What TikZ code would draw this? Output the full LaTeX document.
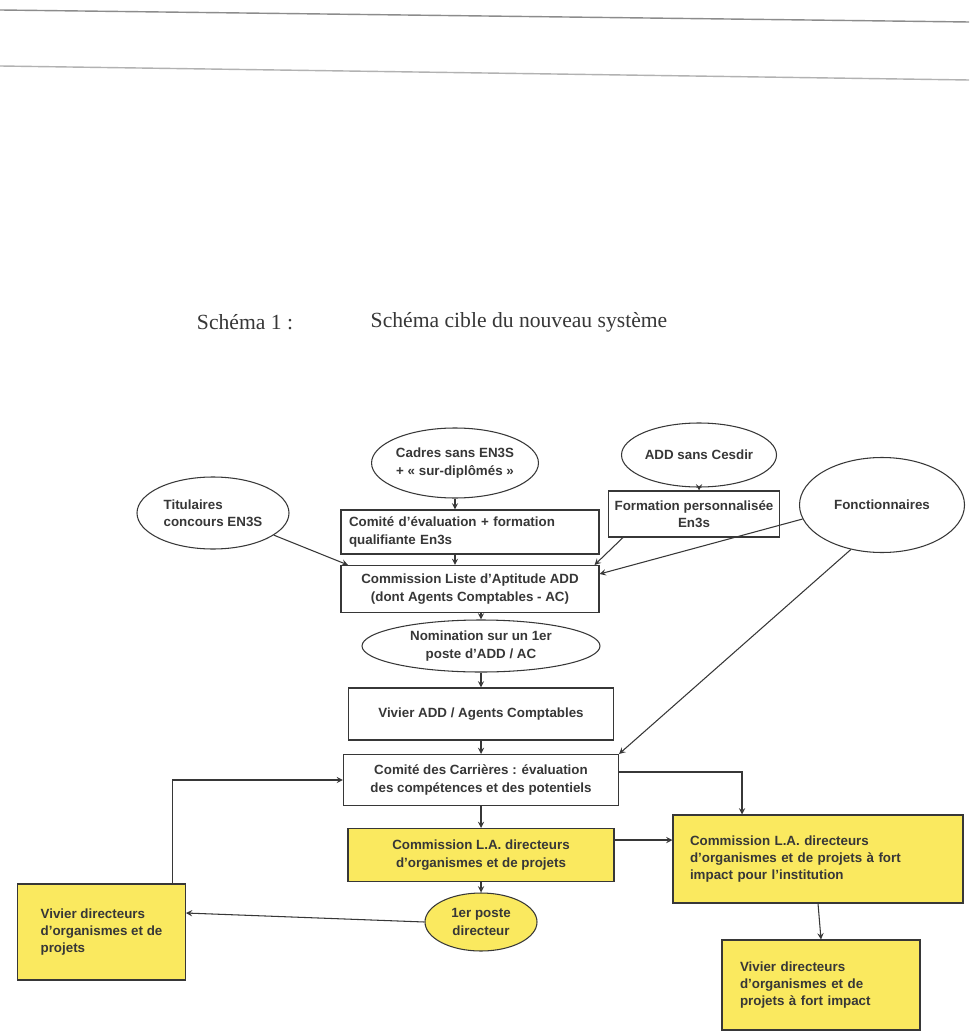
\documentclass[tikz,border=0pt]{standalone}
\usepackage{fontspec}
\setmainfont{Liberation Sans}
\newfontfamily\titlefont{Liberation Serif}
\usetikzlibrary{shapes.geometric, arrows, positioning}

\definecolor{inkgray}{RGB}{55,55,55}
\definecolor{boxyellow}{RGB}{250,233,95}

\tikzstyle{source} = [ellipse, draw=inkgray, line width=0.6pt, inner sep=0pt, text=inkgray, align=center]
\tikzstyle{stage} = [rectangle, draw=inkgray, line width=0.6pt, inner sep=0pt, text=inkgray, align=center]
\tikzstyle{pool} = [rectangle, draw=inkgray, line width=0.6pt, inner sep=0pt, fill=boxyellow, text=inkgray, align=left]
\tikzstyle{arrow} = [->, >=stealth, line width=0.6pt, draw=inkgray]

\begin{document}
\begin{tikzpicture}[font=\fontsize{7.6}{9.8}\selectfont\bfseries]

\useasboundingbox (0,0) rectangle (19.38,-20.68);
\fill [white] (0,0) rectangle (19.38,-20.68);

% bords de page du scan
\draw [black!45, line width=0.8pt] (0,-0.2) -- (19.38,-0.44);
\draw [black!30, line width=0.8pt] (0,-1.32) -- (19.38,-1.6);

\node (titre1) at (4.9,-6.44) [text=inkgray, font=\titlefont\fontsize{12.3}{14}\selectfont] {Schéma 1 :};
\node (titre2) at (10.38,-6.44) [text=inkgray, font=\titlefont\fontsize{12.3}{14}\selectfont] {Schéma cible du nouveau système};

% sources
\node (titul) at (4.26,-10.26) [source, minimum width=3.04cm, minimum height=1.44cm, align=left] {Titulaires\\concours EN3S};
\node (cadres) at (9.1,-9.26) [source, minimum width=3cm, minimum height=1.4cm] {Cadres sans EN3S\\+ « sur-diplômés »};
\node (formp) at (13.88,-10.28) [stage, minimum width=3.42cm, minimum height=0.92cm] {Formation personnalisée\\En3s};
\node (addsc) [source, minimum width=3.1cm, minimum height=1.28cm, above of=formp, node distance=1.18cm, xshift=0.1cm] {ADD sans Cesdir};
\node (fonct) at (17.64,-10.1) [source, minimum width=3.3cm, minimum height=1.9cm] {Fonctionnaires};

% colonne centrale
\node (clist) at (9.4,-11.78) [stage, minimum width=5.16cm, minimum height=0.94cm] {Commission Liste d'Aptitude ADD\\(dont Agents Comptables - AC)};
\node (evalu) [stage, minimum width=5.16cm, minimum height=0.88cm, text width=4.84cm, align=left, above of=clist, node distance=1.14cm] {Comité d'évaluation + formation\\qualifiante En3s};
\node (nomin) [source, minimum width=4.76cm, minimum height=1.04cm, below of=clist, node distance=1.14cm, xshift=0.22cm] {Nomination sur un 1er\\poste d'ADD / AC};
\node (vadd) [stage, minimum width=5.3cm, minimum height=1.04cm, below of=nomin, node distance=1.36cm] {Vivier ADD / Agents Comptables};
\node (ccar) [stage, minimum width=5.5cm, minimum height=1.02cm, below of=vadd, node distance=1.32cm] {Comité des Carrières : évaluation\\des compétences et des potentiels};
\node (cladir) [pool, minimum width=5.32cm, minimum height=1.06cm, align=center, below of=ccar, node distance=1.5cm] {Commission L.A. directeurs\\d'organismes et de projets};
\node (poste) [source, fill=boxyellow, minimum width=2.24cm, minimum height=1.16cm, below of=cladir, node distance=1.34cm] {1er poste\\directeur};

% viviers
\node (vdir) at (2.03,-18.64) [pool, inner xsep=0.46cm, minimum height=1.92cm] {Vivier directeurs\\d'organismes et de\\projets};
\node (cfort) at (16.36,-17.18) [pool, minimum width=5.8cm, minimum height=1.76cm, text width=5.12cm] {Commission L.A. directeurs\\d'organismes et de projets à fort\\impact pour l'institution};
\node (vfort) [pool, minimum width=3.96cm, minimum height=1.8cm, text width=3.24cm, below of=cfort, node distance=2.52cm, xshift=0.06cm] {Vivier directeurs\\d'organismes et de\\projets à fort impact};

\draw [arrow] (cadres.south) -- (cadres.south |- evalu.north);
\draw [arrow] (cadres.south |- evalu.south) -- (cadres.south |- clist.north);
\draw [arrow] (addsc) -- (addsc |- formp.north);
\draw [arrow] ([xshift=0.3cm]formp.south west) -- ([xshift=-0.1cm]clist.north east);
\draw [arrow] (titul.-20) -- ([xshift=0.15cm]clist.north west);
\draw [arrow] (fonct.190) -- ([yshift=0.3cm]clist.east);
\draw [arrow] (fonct.235) -- (ccar.north east);

\draw [arrow] (nomin.north |- clist.south) -- (nomin);
\draw [arrow] (nomin) -- (vadd);
\draw [arrow] (vadd) -- (ccar);
\draw [arrow] (ccar) -- (cladir);
\draw [arrow] (cladir) -- (poste);

\draw [arrow] ([yshift=0.16cm]ccar.east) -| ([xshift=-1.52cm]cfort.north);
\draw [arrow] ([yshift=0.3cm]cladir.east) -- ([yshift=0.3cm]cladir.east -| cfort.west);
\draw [arrow] (cfort.south) -- (vfort.north);
\draw [arrow] (poste.west) -- ([yshift=0.38cm]vdir.east);
\draw [arrow] ([xshift=-0.26cm]vdir.north east) |- (ccar.west);

\end{tikzpicture}
\end{document}
